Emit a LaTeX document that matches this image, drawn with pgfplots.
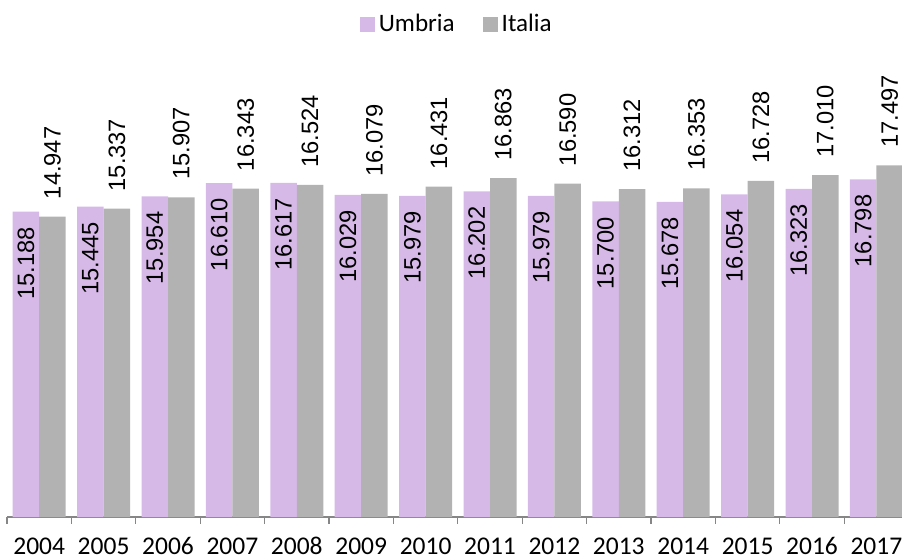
\documentclass[border=0pt]{standalone}
\usepackage{fontspec}
\setmainfont{Carlito}
\newfontfamily\valfont{Liberation Sans}
\usepackage{pgfplots}
\pgfplotsset{compat=1.18}
\definecolor{umb}{RGB}{215,185,232}
\definecolor{ita}{RGB}{178,178,178}
\definecolor{axg}{RGB}{134,134,134}
\begin{document}
\begin{tikzpicture}
\begin{axis}[
  at={(0,0)}, anchor=south west,
  scale only axis, width=450.8bp, height=201bp,
  xmin=-0.5, xmax=13.5, ymin=0, ymax=20,
  clip=false,
  ybar=0pt, bar width=13.25bp,
  axis x line*=bottom, axis y line=none,
  x axis line style={axg, line width=0.6bp, -},
  xtick={0,...,13},
  xticklabels={2004,2005,2006,2007,2008,2009,2010,2011,2012,2013,2014,2015,2016,2017},
  major tick length=0pt,
  minor xtick={-0.5,0.5,...,13.5},
  minor tick length=3.5bp, tick align=outside,
  minor tick style={axg, line width=0.6bp},
  xticklabel style={font=\fontsize{12.8}{14}\selectfont, anchor=base, yshift=-18.5bp},
  ytick=\empty,
  nodes near coords,
  every node near coord/.append style={font=\valfont\fontsize{11.9}{13}\selectfont, rotate=90, text=black},
  /pgf/number format/fixed, /pgf/number format/fixed zerofill, /pgf/number format/precision=3,
  /pgf/number format/assume math mode=true,
  legend style={at={(0.5,1.226)}, anchor=center, draw=none, fill=none,
    legend columns=-1, font=\fontsize{12.6}{14}\selectfont,
    /tikz/every even column/.append style={column sep=12bp},
    /tikz/every odd column/.append style={column sep=0bp}},
  legend image code/.code={\fill[#1] (0bp,-3.75bp) rectangle (7.5bp,3.75bp);},
]
\addplot[fill=umb, draw=none, nodes near coords style={anchor=east, inner xsep=7.5bp}] coordinates {
(0,15.188) (1,15.445) (2,15.954) (3,16.610) (4,16.617) (5,16.029) (6,15.979)
(7,16.202) (8,15.979) (9,15.700) (10,15.678) (11,16.054) (12,16.323) (13,16.798)};
\addlegendentry{Umbria}
\addplot[fill=ita, draw=none, nodes near coords style={anchor=west, inner xsep=8.5bp}] coordinates {
(0,14.947) (1,15.337) (2,15.907) (3,16.343) (4,16.524) (5,16.079) (6,16.431)
(7,16.863) (8,16.590) (9,16.312) (10,16.353) (11,16.728) (12,17.010) (13,17.497)};
\addlegendentry{Italia}
\end{axis}
\pgfresetboundingbox
\path[use as bounding box] (-3.5bp,-21bp) rectangle (447.5bp,258.5bp);
\end{tikzpicture}
\end{document}
